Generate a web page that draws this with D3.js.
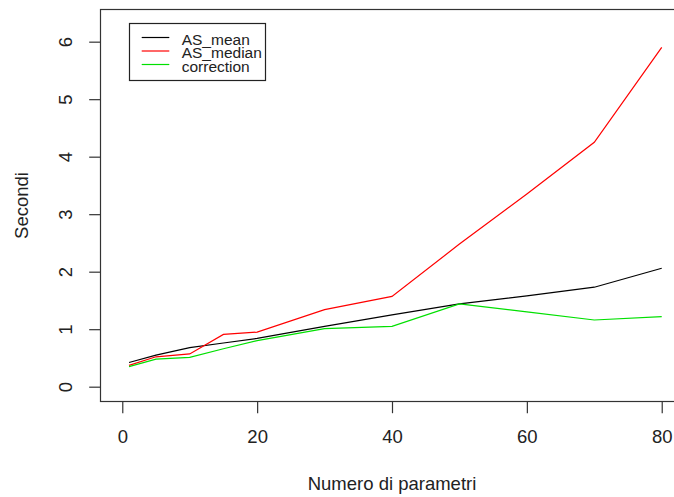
<!DOCTYPE html>
<html><head><meta charset="utf-8">
<script src="https://cdn.jsdelivr.net/npm/d3@7"></script>
<style>body{margin:0;background:#fff}svg{display:block}text{font-family:"Liberation Sans",Arial,sans-serif;fill:#222}</style>
</head><body>
<svg id="c" width="674" height="497"></svg>
<script>
const xValues = [1, 5, 10, 15, 20, 30, 40, 50, 60, 70, 80];
const asMean = [0.42, 0.55, 0.68, 0.76, 0.84, 1.05, 1.25, 1.44, 1.58, 1.73, 2.06];
const asMedian = [0.37, 0.52, 0.57, 0.91, 0.95, 1.34, 1.57, 2.48, 3.35, 4.25, 5.90];
const correction = [0.35, 0.48, 0.51, 0.66, 0.80, 1.01, 1.05, 1.44, 1.30, 1.16, 1.22];
const seriesNames = ["AS_mean", "AS_median", "correction"];
const seriesColors = ["#000000", "#ff0000", "#00e000"];
const xTicks = [0, 20, 40, 60, 80];
const yTicks = [0, 1, 2, 3, 4, 5, 6];

const svg = d3.select("#c");
const x = d3.scaleLinear().domain([-3.2, 83.2]).range([100.7, 683.3]);
const y = d3.scaleLinear().domain([-0.261, 6.563]).range([401.7, 9.3]);

const series = [asMean, asMedian, correction];
const line = d3.line().x(d => x(d[0])).y(d => y(d[1]));
series.forEach((vals, i) => {
  svg.append("path").datum(xValues.map((xv, j) => [xv, vals[j]]))
    .attr("d", line).attr("fill", "none").attr("stroke", seriesColors[i]).attr("stroke-width", 1.2);
});

// box
svg.append("rect").attr("x", 100.5).attr("y", 9.5).attr("width", 583).attr("height", 392)
  .attr("fill", "none").attr("stroke", "#333").attr("stroke-width", 1.2);

// x axis
const xa = svg.append("g").attr("transform", "translate(0,401.7)")
  .call(d3.axisBottom(x).tickValues(xTicks).tickFormat(d3.format("d")).tickSize(11.5).tickSizeOuter(0));
xa.select(".domain").remove();
xa.selectAll("line").attr("stroke", "#333").attr("stroke-width", 1.2);
xa.selectAll("text").attr("font-size", 18.5).attr("dy", 0).attr("fill", "#222")
  .attr("y", 41.5);

// y axis
const ya = svg.append("g").attr("transform", "translate(100.7,0)")
  .call(d3.axisLeft(y).tickValues(yTicks).tickFormat(d3.format("d")).tickSize(11.5).tickSizeOuter(0));
ya.select(".domain").remove();
ya.selectAll("line").attr("stroke", "#333").attr("stroke-width", 1.2);
ya.selectAll("text").attr("font-size", 18.5).attr("x", null).attr("dy", 0)
  .attr("text-anchor", "middle").attr("fill", "#222")
  .attr("transform", "translate(-29,0) rotate(-90)");

svg.append("text").attr("x", 392).attr("y", 490).attr("text-anchor", "middle")
  .attr("font-size", 18.5).text("Numero di parametri");
svg.append("text").attr("transform", "translate(28,205.5) rotate(-90)").attr("text-anchor", "middle")
  .attr("font-size", 18.5).text("Secondi");

// legend
const lg = svg.append("g");
lg.append("rect").attr("x", 129.5).attr("y", 23.5).attr("width", 136).attr("height", 57)
  .attr("fill", "#fff").attr("stroke", "#222").attr("stroke-width", 1.2);
seriesNames.forEach((n, i) => {
  const yy = 37.5 + i * 13.5;
  lg.append("line").attr("x1", 141.7).attr("x2", 169.3).attr("y1", yy).attr("y2", yy)
    .attr("stroke", seriesColors[i]).attr("stroke-width", 1.2);
  lg.append("text").attr("x", 181.7).attr("y", yy + 7).attr("font-size", 15.5).text(n);
});
</script>
</body></html>
